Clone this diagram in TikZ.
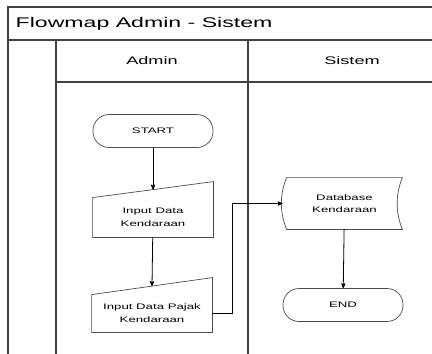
\documentclass[tikz,border=0pt]{standalone}
\usepackage{fontspec}
\usepackage{tikz}
\usetikzlibrary{arrows,positioning}
\newfontfamily\flowfont[FakeStretch=1.65]{Liberation Sans}

\begin{document}
\begin{tikzpicture}[x=1pt,y=-1pt,->,>=stealth',shorten >=0pt,thick,
lane/.style={-,draw=black!75,line width=1.3pt},
term node/.style={draw=black!70,line width=0.7pt,rounded corners=16pt,minimum width=120pt,minimum height=33pt,font=\flowfont\fontsize{8}{13}\selectfont},
in node/.style={minimum width=120pt,align=center,font=\flowfont\fontsize{8}{13}\selectfont},
db node/.style={minimum width=115pt,minimum height=51pt,align=center,font=\flowfont\fontsize{8}{12}\selectfont},
shape line/.style={-,draw=black!70,line width=0.7pt},
flow/.style={->,line width=0.8pt}]

\useasboundingbox (0,0) rectangle (432,354);

% frame
\draw[lane] (8,354) -- (8,7) -- (432,7);
\draw[lane] (8,40) -- (432,40);
\draw[lane] (56,40) -- (56,354);
\draw[lane] (56,82) -- (432,82);
\draw[lane] (248,40) -- (248,354);

\node[anchor=west,font=\flowfont\fontsize{14}{16}\selectfont] (title) at (12,24) {Flowmap Admin - Sistem};
\node[font=\flowfont\fontsize{11}{13}\selectfont] (admin) at (152,61) {Admin};
\node[font=\flowfont\fontsize{11}{13}\selectfont] (sistem) at (352,61) {Sistem};

% admin lane
\node[term node] (start) at (153,131) {START};
\node[in node,minimum height=39pt] (in1) at (153,217.5) {Input Data\\Kendaraan};
\node[in node,minimum height=37pt] (in2) at (152,313.5) {Input Data Pajak\\Kendaraan};

\draw[shape line] (in1.south west) -- (in1.south east) -- ([yshift=16pt]in1.north east) -- (in1.north west) -- cycle;
\draw[shape line] (in2.south west) -- (in2.south east) -- ([yshift=17pt]in2.north east) -- (in2.north west) -- cycle;

% sistem lane
\node[db node] (db) at (344.5,203.5) {Database\\Kendaraan};
\node[term node] (end) at (343,305) {END};

\draw[shape line] (db.north west) -- (db.north east)
  .. controls +(-7,17) and +(-7,-17) .. (db.south east) -- (db.south west)
  .. controls +(-7,-17) and +(-7,17) .. (db.north west);

\draw[flow] (start) -- ([yshift=8pt]in1.north);
\draw[flow] (in1) -- ([yshift=8.5pt]in2.north);
\draw[flow] (in2.east) -- ++(20,0) |- ([xshift=-4pt]db.west);
\draw[flow] (db) -- (end);
\end{tikzpicture}
\end{document}
